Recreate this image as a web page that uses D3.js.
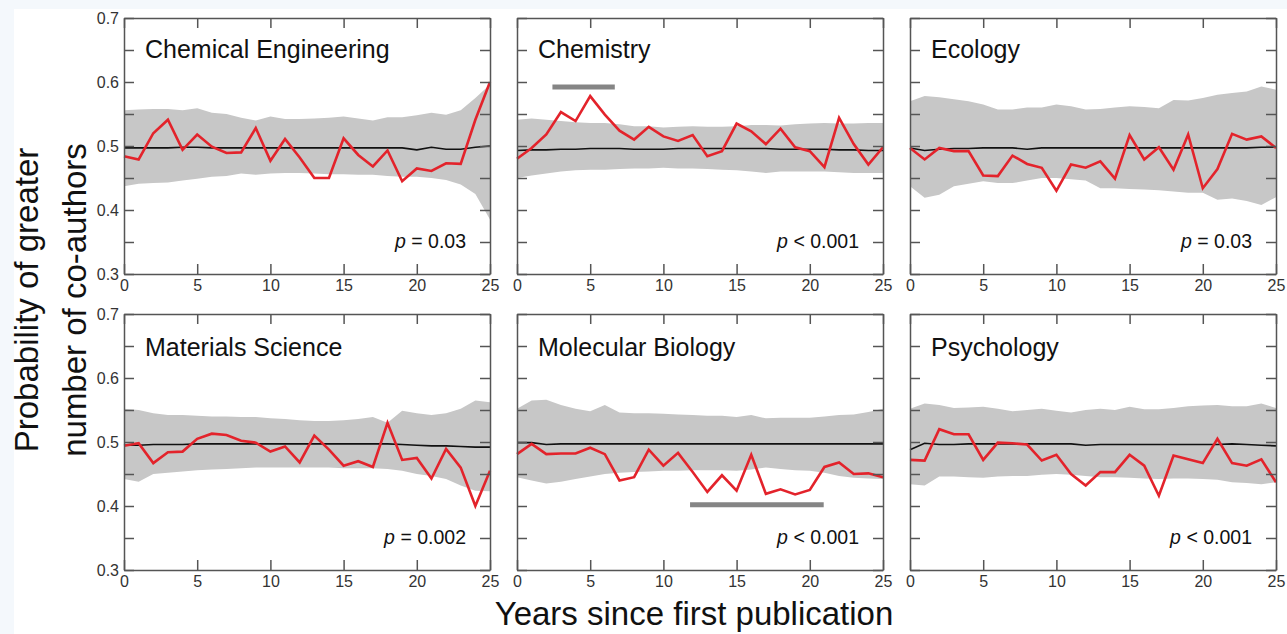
<!DOCTYPE html>
<html><head><meta charset="utf-8">
<script src="https://cdn.jsdelivr.net/npm/d3@7/dist/d3.min.js"></script>
<style>
body{margin:0;background:#fff;}
svg{display:block;font-family:"Liberation Sans",Arial,Helvetica,sans-serif;}
</style>
</head><body>
<svg id="chart" width="1287" height="634"></svg>
<script>
// ---------- data ----------
const years = [0,1,2,3,4,5,6,7,8,9,10,11,12,13,14,15,16,17,18,19,20,21,22,23,24,25];
const fields = ["Chemical Engineering","Chemistry","Ecology","Materials Science","Molecular Biology","Psychology"];
const pLabels = ["= 0.03","< 0.001","= 0.03","= 0.002","< 0.001","< 0.001"];
const yTicks = [0.3,0.35,0.4,0.45,0.5,0.55,0.6,0.65,0.7];
const yLabels = ["0.3","0.4","0.5","0.6","0.7"];
const xTicks = [0,5,10,15,20,25];

// observed (red)
const obsChemEng = [0.484,0.479,0.520,0.541,0.494,0.518,0.499,0.489,0.490,0.528,0.477,0.511,0.482,0.450,0.450,0.512,0.486,0.468,0.493,0.445,0.465,0.461,0.473,0.472,0.541,0.600];
const obsChemistry = [0.480,0.497,0.518,0.553,0.539,0.578,0.549,0.524,0.510,0.530,0.515,0.508,0.517,0.484,0.492,0.535,0.523,0.503,0.527,0.498,0.492,0.467,0.544,0.503,0.471,0.498];
const obsEcology = [0.497,0.479,0.497,0.492,0.492,0.454,0.453,0.485,0.472,0.466,0.430,0.471,0.466,0.476,0.449,0.517,0.479,0.498,0.463,0.518,0.434,0.464,0.519,0.510,0.515,0.497];
const obsMatSci = [0.494,0.498,0.467,0.484,0.485,0.505,0.513,0.511,0.502,0.499,0.485,0.493,0.468,0.510,0.488,0.463,0.470,0.461,0.530,0.472,0.475,0.443,0.489,0.460,0.400,0.455];
const obsMolBio = [0.481,0.497,0.481,0.482,0.482,0.491,0.481,0.440,0.445,0.488,0.463,0.483,0.453,0.422,0.448,0.424,0.480,0.419,0.426,0.418,0.425,0.461,0.468,0.450,0.451,0.445];
const obsPsych = [0.472,0.471,0.520,0.512,0.512,0.472,0.499,0.498,0.496,0.471,0.480,0.450,0.432,0.453,0.453,0.480,0.463,0.416,0.479,0.473,0.467,0.505,0.467,0.463,0.473,0.437];

// null-model mean (black)
const meanChemEng = [0.497,0.497,0.497,0.497,0.498,0.498,0.497,0.497,0.497,0.497,0.497,0.497,0.497,0.497,0.497,0.497,0.497,0.497,0.497,0.497,0.494,0.498,0.495,0.495,0.498,0.500];
const meanChemistry = [0.493,0.494,0.494,0.495,0.495,0.496,0.496,0.496,0.495,0.495,0.495,0.496,0.496,0.496,0.496,0.496,0.496,0.496,0.495,0.495,0.495,0.495,0.494,0.494,0.493,0.493];
const meanEcology = [0.497,0.493,0.495,0.496,0.496,0.497,0.497,0.497,0.495,0.497,0.497,0.497,0.497,0.497,0.497,0.497,0.497,0.497,0.497,0.497,0.497,0.497,0.497,0.497,0.498,0.498];
const meanMatSci = [0.495,0.495,0.496,0.496,0.496,0.497,0.497,0.497,0.497,0.497,0.497,0.497,0.497,0.497,0.497,0.497,0.497,0.497,0.497,0.496,0.495,0.494,0.494,0.493,0.492,0.492];
const meanMolBio = [0.499,0.499,0.496,0.497,0.497,0.497,0.497,0.497,0.497,0.497,0.497,0.497,0.497,0.497,0.497,0.497,0.497,0.497,0.497,0.497,0.497,0.497,0.497,0.497,0.497,0.497];
const meanPsych = [0.488,0.498,0.496,0.496,0.497,0.497,0.497,0.497,0.497,0.497,0.497,0.497,0.495,0.496,0.496,0.496,0.496,0.496,0.496,0.496,0.496,0.496,0.497,0.496,0.495,0.494];

// null-model band upper / lower (grey)
const hiChemEng = [0.556,0.557,0.558,0.558,0.556,0.559,0.552,0.550,0.544,0.540,0.546,0.542,0.542,0.543,0.544,0.546,0.543,0.540,0.545,0.545,0.548,0.552,0.549,0.556,0.575,0.596];
const loChemEng = [0.437,0.441,0.442,0.443,0.446,0.449,0.452,0.453,0.457,0.455,0.457,0.458,0.458,0.457,0.456,0.456,0.455,0.455,0.453,0.452,0.452,0.450,0.447,0.440,0.425,0.385];
const hiChemistry = [0.541,0.543,0.541,0.539,0.537,0.536,0.536,0.534,0.531,0.531,0.529,0.530,0.531,0.530,0.530,0.531,0.533,0.533,0.532,0.534,0.535,0.536,0.535,0.535,0.536,0.536];
const loChemistry = [0.450,0.454,0.457,0.460,0.462,0.463,0.463,0.464,0.465,0.465,0.466,0.465,0.465,0.464,0.463,0.462,0.460,0.458,0.460,0.460,0.460,0.460,0.459,0.458,0.458,0.458];
const hiEcology = [0.570,0.578,0.576,0.573,0.570,0.565,0.557,0.557,0.560,0.560,0.565,0.562,0.557,0.558,0.560,0.562,0.561,0.559,0.572,0.571,0.575,0.580,0.583,0.585,0.593,0.588];
const loEcology = [0.437,0.419,0.424,0.437,0.441,0.445,0.442,0.442,0.446,0.450,0.450,0.448,0.446,0.434,0.434,0.433,0.432,0.431,0.429,0.427,0.427,0.416,0.418,0.414,0.408,0.420];
const hiMatSci = [0.552,0.550,0.545,0.542,0.542,0.541,0.540,0.540,0.539,0.539,0.537,0.536,0.534,0.533,0.533,0.534,0.536,0.539,0.530,0.549,0.545,0.542,0.545,0.552,0.565,0.562];
const loMatSci = [0.442,0.438,0.450,0.452,0.454,0.456,0.457,0.458,0.459,0.460,0.460,0.460,0.460,0.460,0.460,0.459,0.459,0.459,0.458,0.455,0.450,0.447,0.442,0.432,0.424,0.423];
const hiMolBio = [0.552,0.565,0.566,0.558,0.552,0.548,0.558,0.546,0.545,0.545,0.544,0.543,0.542,0.541,0.541,0.539,0.542,0.537,0.538,0.538,0.538,0.540,0.542,0.543,0.547,0.552];
const loMolBio = [0.445,0.440,0.435,0.438,0.442,0.446,0.450,0.452,0.453,0.454,0.455,0.455,0.456,0.456,0.456,0.455,0.457,0.460,0.458,0.456,0.455,0.452,0.447,0.444,0.443,0.442];
const hiPsych = [0.552,0.560,0.558,0.553,0.554,0.555,0.552,0.548,0.550,0.552,0.549,0.546,0.550,0.552,0.550,0.555,0.551,0.551,0.553,0.556,0.557,0.558,0.556,0.556,0.560,0.553];
const loPsych = [0.434,0.432,0.446,0.446,0.445,0.444,0.446,0.447,0.447,0.449,0.450,0.449,0.447,0.445,0.445,0.444,0.443,0.442,0.443,0.443,0.442,0.441,0.437,0.436,0.434,0.437];

// significance bars [startYear, endYear, level] (null where absent)
const sigChemistry = [2.42, 6.68, 0.592];
const sigMolBio = [11.82, 20.95, 0.402];

const observed = [obsChemEng, obsChemistry, obsEcology, obsMatSci, obsMolBio, obsPsych];
const means = [meanChemEng, meanChemistry, meanEcology, meanMatSci, meanMolBio, meanPsych];
const highs = [hiChemEng, hiChemistry, hiEcology, hiMatSci, hiMolBio, hiPsych];
const lows = [loChemEng, loChemistry, loEcology, loMatSci, loMolBio, loPsych];
const sigBars = [null, sigChemistry, null, null, sigMolBio, null];

// ---------- layout ----------
const svg = d3.select("#chart");
const colX = [124, 517, 910];
const rowY = [18, 314];
const W = 366, H = 256;
const frameColor = "#555";

// faint scan tint at edges
svg.append("rect").attr("x",0).attr("y",0).attr("width",1287).attr("height",9).attr("fill","#f4f8fc");
svg.append("rect").attr("x",0).attr("y",0).attr("width",14).attr("height",634).attr("fill","#f4f8fc");

fields.forEach((name, i) => {
  const col = i % 3, row = Math.floor(i / 3);
  const g = svg.append("g").attr("transform", `translate(${colX[col]},${rowY[row]})`);
  const x = d3.scaleLinear().domain([0,25]).range([0, W]);
  const y = d3.scaleLinear().domain([0.3,0.7]).range([H, 0]);

  const band = years.map((yr, k) => ({yr, lo: lows[i][k], hi: highs[i][k]}));
  g.append("path").datum(band)
    .attr("fill", "#c7c7c7")
    .attr("d", d3.area().x(d => x(d.yr)).y0(d => y(d.lo)).y1(d => y(d.hi)));

  g.append("path").datum(years.map((yr,k)=>({yr, v: means[i][k]})))
    .attr("fill","none").attr("stroke","#111").attr("stroke-width",1.6)
    .attr("d", d3.line().x(d=>x(d.yr)).y(d=>y(d.v)));

  g.append("path").datum(years.map((yr,k)=>({yr, v: observed[i][k]})))
    .attr("fill","none").attr("stroke","#e3232b").attr("stroke-width",2.6)
    .attr("stroke-linejoin","miter")
    .attr("d", d3.line().x(d=>x(d.yr)).y(d=>y(d.v)));

  if (sigBars[i]) {
    const s = sigBars[i];
    g.append("line").attr("x1", x(s[0])).attr("x2", x(s[1]))
      .attr("y1", y(s[2])).attr("y2", y(s[2]))
      .attr("stroke","#858585").attr("stroke-width",5);
  }

  // axes (frame + inward ticks)
  const left = d3.axisLeft(y).tickValues(yTicks).tickSizeInner(-10).tickSizeOuter(0).tickPadding(5)
    .tickFormat(d => (col === 0 && yLabels.includes(d.toFixed(1)) && Math.abs(d*10 - Math.round(d*10))<1e-6) ? d.toFixed(1) : "");
  const right = d3.axisRight(y).tickValues(yTicks).tickSizeInner(-10).tickSizeOuter(0).tickFormat("");
  const top = d3.axisTop(x).tickValues(xTicks).tickSizeInner(-10).tickSizeOuter(0).tickFormat("");
  const bottom = d3.axisBottom(x).tickValues(xTicks).tickSizeInner(-10).tickSizeOuter(0).tickPadding(6).tickFormat(d3.format("d"));

  const axes = [
    g.append("g").call(left),
    g.append("g").attr("transform",`translate(${W},0)`).call(right),
    g.append("g").call(top),
    g.append("g").attr("transform",`translate(0,${H})`).call(bottom)
  ];
  axes.forEach(a => {
    a.attr("font-size", 16).attr("font-family", '"Liberation Sans",Arial,sans-serif');
    a.selectAll(".domain").attr("stroke", frameColor).attr("stroke-width",1.5);
    a.selectAll(".tick line").attr("stroke", frameColor).attr("stroke-width",1.5);
    a.selectAll(".tick text").attr("fill","#333").style("font-size","16px");
  });

  g.append("text").attr("x", 21).attr("y", row === 0 ? 40 : 42)
    .attr("fill","#111").style("font-size","25px").text(name);

  const pt = g.append("text").attr("x", W - 24).attr("y", H - 26)
    .attr("text-anchor","end").attr("fill","#111").style("font-size","19.5px");
  pt.append("tspan").style("font-style","italic").text("p");
  pt.append("tspan").text(" " + pLabels[i]);
});

// axis titles
svg.append("text").attr("x", 694).attr("y", 625).attr("text-anchor","middle")
  .attr("fill","#111").style("font-size","33px").text("Years since first publication");

const yt = svg.append("text").attr("transform","translate(0,300) rotate(-90)")
  .attr("text-anchor","middle").attr("fill","#111").style("font-size","33px");
yt.append("tspan").attr("x",0).attr("y",38).text("Probability of greater");
yt.append("tspan").attr("x",0).attr("y",86).text("number of co-authors");
</script>
</body></html>
